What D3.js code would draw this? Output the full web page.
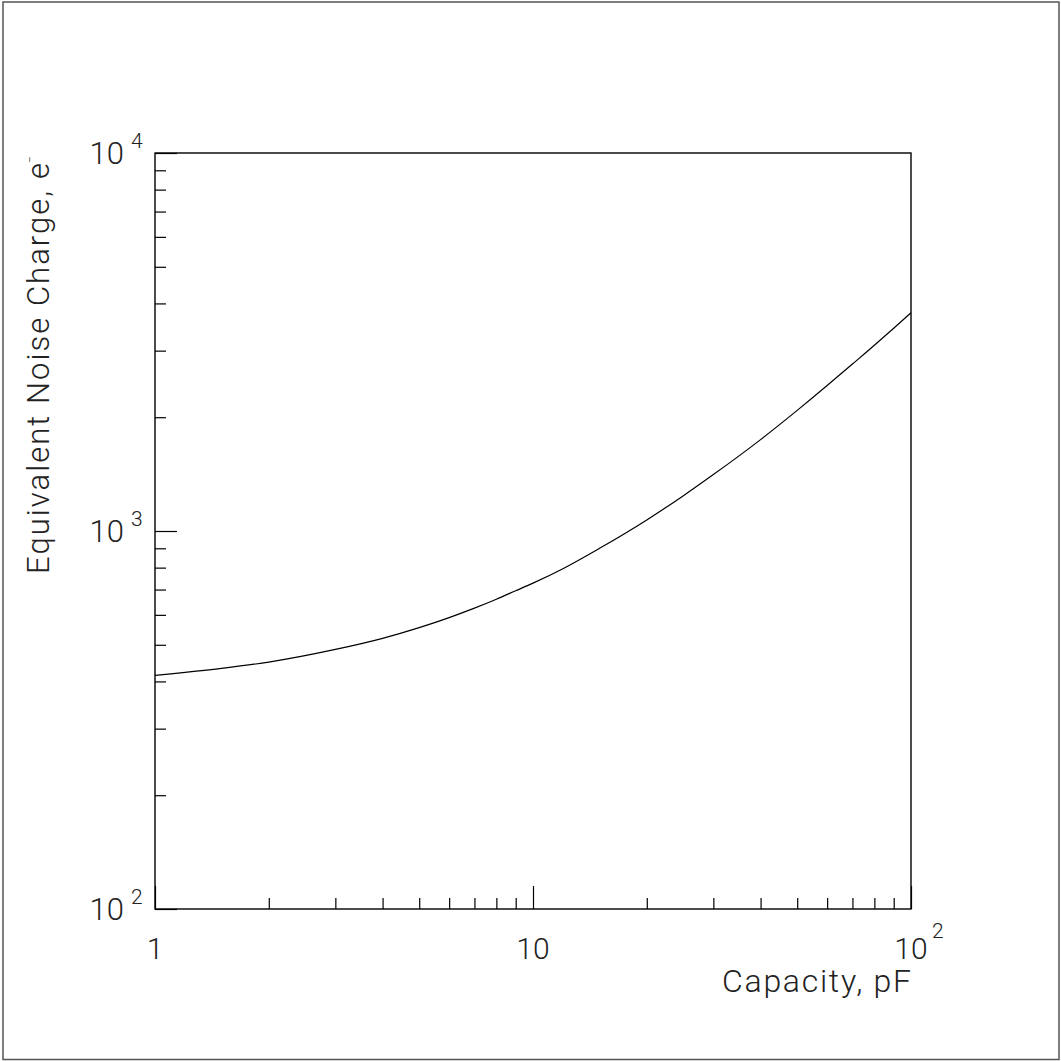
<!DOCTYPE html>
<html>
<head>
<meta charset="utf-8">
<script src="https://cdn.jsdelivr.net/npm/d3@7"></script>
<style>
  html, body { margin: 0; padding: 0; background: #fff; }
  svg { display: block; }
  text { font-family: Roboto, "DejaVu Sans", sans-serif; font-weight: 300; fill: #222; }
</style>
</head>
<body>
<div id="chart"></div>
<script>
// ===== DATA =====
const capacity = [1, 1.5, 2, 3, 4, 5, 6, 7, 8, 9, 10, 12, 15, 20, 25, 30, 40, 50, 60, 70, 80, 90, 100];
const noiseCharge = [415, 433, 450, 486, 520, 555, 590, 625, 660, 695, 728, 795, 900, 1070, 1240, 1410, 1745, 2085, 2425, 2765, 3100, 3440, 3780];

const xMajorTicks = [1, 10, 100];
const xMinorTicks = [2, 3, 4, 5, 6, 7, 8, 9, 20, 30, 40, 50, 60, 70, 80, 90];
const xTickLabels = [
    { v: 1, base: '1', exp: '' },
    { v: 10, base: '10', exp: '' },
    { v: 100, base: '10', exp: '2' }
];
const yMajorTicks = [100, 1000, 10000];
const yMinorTicks = [200, 300, 400, 500, 600, 700, 800, 900, 2000, 3000, 4000, 5000, 6000, 7000, 8000, 9000];
const yTickLabels = [
    { v: 100, base: '10', exp: '2' },
    { v: 1000, base: '10', exp: '3' },
    { v: 10000, base: '10', exp: '4' }
];
const xTitle = 'Capacity, pF';
const yTitle = 'Equivalent Noise Charge, e';
const yTitleExp = '\u2212';

// ===== LAYOUT =====
const W = 1061, H = 1061;
const plot = { left: 155, right: 911, top: 153, bottom: 909 };

const svg = d3.select('#chart').append('svg')
    .attr('width', W).attr('height', H);

// outer page frame
svg.append('rect')
    .attr('x', 3).attr('y', 2).attr('width', 1056).attr('height', 1057.5)
    .attr('fill', 'none').attr('stroke', '#555').attr('stroke-width', 1.5);

const x = d3.scaleLog().domain([1, 100]).range([plot.left, plot.right]);
const y = d3.scaleLog().domain([100, 10000]).range([plot.bottom, plot.top]);

// ticks drawn with d3 axes, pointing inward
function addAxis(axis, transform) {
    const g = svg.append('g').attr('transform', transform).call(axis);
    g.select('.domain').remove();
    g.selectAll('text').remove();
    g.selectAll('line').attr('stroke', '#000').attr('stroke-width', 1.2);
    return g;
}
addAxis(d3.axisBottom(x).tickValues(xMajorTicks).tickSize(-23), `translate(0,${plot.bottom})`);
addAxis(d3.axisBottom(x).tickValues(xMinorTicks).tickSize(-11), `translate(0,${plot.bottom})`);
addAxis(d3.axisLeft(y).tickValues(yMajorTicks).tickSize(-22), `translate(${plot.left},0)`);
addAxis(d3.axisLeft(y).tickValues(yMinorTicks).tickSize(-11), `translate(${plot.left},0)`);

// plot frame
svg.append('rect')
    .attr('x', plot.left).attr('y', plot.top)
    .attr('width', plot.right - plot.left).attr('height', plot.bottom - plot.top)
    .attr('fill', 'none').attr('stroke', '#000').attr('stroke-width', 1.4);

// curve
const line = d3.line()
    .x((d, i) => x(capacity[i]))
    .y(d => y(d))
    .curve(d3.curveMonotoneX);
svg.append('path')
    .datum(noiseCharge)
    .attr('d', line)
    .attr('fill', 'none').attr('stroke', '#000').attr('stroke-width', 1.2);

// x tick labels
xTickLabels.forEach(t => {
    const cx = x(t.v);
    svg.append('text')
        .attr('x', cx).attr('y', 959)
        .attr('text-anchor', 'middle').attr('font-size', 30)
        .text(t.base);
    if (t.exp) {
        svg.append('text')
            .attr('x', cx + 21).attr('y', 938)
            .attr('font-size', 21)
            .text(t.exp);
    }
});

// y tick labels
yTickLabels.forEach(t => {
    const cy = y(t.v);
    svg.append('text')
        .attr('x', 124).attr('y', cy + 11)
        .attr('text-anchor', 'end').attr('font-size', 31)
        .text(t.base);
    svg.append('text')
        .attr('x', 131).attr('y', cy - 5)
        .attr('font-size', 21)
        .text(t.exp);
});

// axis titles
svg.append('text')
    .attr('x', plot.right).attr('y', 992)
    .attr('text-anchor', 'end').attr('font-size', 32)
    .attr('textLength', 189).attr('lengthAdjust', 'spacing')
    .text(xTitle);

const yt = svg.append('g').attr('transform', 'translate(49,574) rotate(-90)');
yt.append('text')
    .attr('x', 0).attr('y', 0)
    .attr('font-size', 31)
    .attr('textLength', 411).attr('lengthAdjust', 'spacing')
    .text(yTitle);
yt.append('text')
    .attr('x', 411).attr('y', -15)
    .attr('font-size', 12)
    .text(yTitleExp);
</script>
</body>
</html>
